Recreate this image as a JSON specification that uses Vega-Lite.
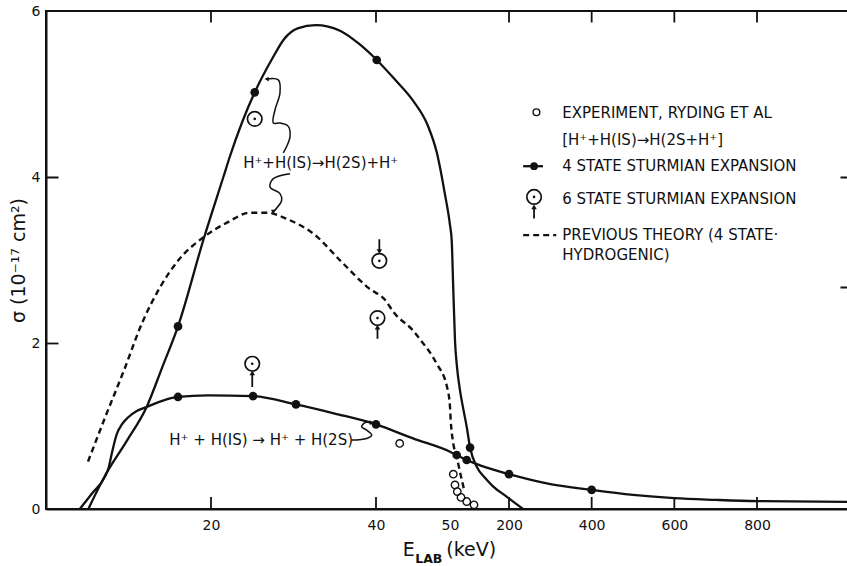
{
  "$schema": "https://vega.github.io/schema/vega-lite/v6.json",
  "width": 803,
  "height": 498,
  "autosize": {"type": "none"},
  "padding": {"left": 46, "top": 11, "right": 0, "bottom": 57},
  "background": "white",
  "config": {
    "view": {"stroke": "#111", "strokeWidth": 2},
    "font": "DejaVu Sans",
    "axis": {"domainColor": "#111", "labelColor": "#111", "titleColor": "#111", "domainWidth": 2, "ticks": false, "gridColor": "#111", "gridWidth": 1.8, "gridOpacity": 1, "labelFont": "DejaVu Sans", "titleFont": "DejaVu Sans", "labelFlush": false, "labelBound": false, "labelOverlap": false}
  },
  "datasets": {
    "big": [{"x":5.13,"y":0},{"x":7.15,"y":0.4},{"x":9.85,"y":0.83},{"x":12.2,"y":1.23},{"x":14.1,"y":1.71},{"x":16,"y":2.2},{"x":19.1,"y":3.25},{"x":21.5,"y":4.0},{"x":22.3,"y":4.25},{"x":25.3,"y":5.02},{"x":27.5,"y":5.44},{"x":28.85,"y":5.66},{"x":30.5,"y":5.79},{"x":32.7,"y":5.83},{"x":35.7,"y":5.76},{"x":38,"y":5.6},{"x":40.1,"y":5.41},{"x":42.5,"y":5.18},{"x":45,"y":4.92},{"x":47,"y":4.62},{"x":48.2,"y":4.3},{"x":49.3,"y":3.8},{"x":50,"y":3.42},{"x":54.3,"y":3.24},{"x":58,"y":2.7},{"x":62.7,"y":2.03},{"x":68,"y":1.7},{"x":75.4,"y":1.43},{"x":84,"y":1.2},{"x":92.5,"y":0.99},{"x":101,"y":0.74},{"x":118,"y":0.51},{"x":140,"y":0.37},{"x":160,"y":0.27},{"x":194,"y":0.15},{"x":215,"y":0.07},{"x":234,"y":0}],
    "small": [{"x":4.1,"y":0},{"x":5.6,"y":0.19},{"x":7.15,"y":0.39},{"x":7.6,"y":0.5},{"x":8.0,"y":0.68},{"x":8.57,"y":0.9},{"x":9.2,"y":1.02},{"x":9.9,"y":1.1},{"x":11,"y":1.18},{"x":12.2,"y":1.23},{"x":14,"y":1.3},{"x":16,"y":1.35},{"x":19.6,"y":1.37},{"x":25.1,"y":1.36},{"x":30.3,"y":1.26},{"x":35,"y":1.15},{"x":40,"y":1.02},{"x":45,"y":0.85},{"x":50,"y":0.69},{"x":67,"y":0.65},{"x":92.5,"y":0.59},{"x":130,"y":0.52},{"x":200,"y":0.42},{"x":300,"y":0.3},{"x":400,"y":0.23},{"x":500,"y":0.17},{"x":600,"y":0.13},{"x":700,"y":0.11},{"x":800,"y":0.095},{"x":1010,"y":0.085}],
    "prev": [{"x":5.09,"y":0.57},{"x":7.27,"y":1.13},{"x":9.45,"y":1.67},{"x":11.64,"y":2.24},{"x":13.82,"y":2.67},{"x":16.24,"y":3.02},{"x":19.03,"y":3.27},{"x":21.94,"y":3.45},{"x":24.73,"y":3.57},{"x":26.8,"y":3.57},{"x":29.3,"y":3.49},{"x":32.5,"y":3.31},{"x":35.7,"y":2.99},{"x":39,"y":2.67},{"x":41.4,"y":2.5},{"x":42.3,"y":2.38},{"x":45,"y":2.15},{"x":45.9,"y":2.05},{"x":48.2,"y":1.75},{"x":49.6,"y":1.47},{"x":50,"y":1.23},{"x":51.8,"y":1.07},{"x":57,"y":0.83},{"x":67,"y":0.63},{"x":80,"y":0.35},{"x":86,"y":0.23}],
    "pts4": [{"x":16,"y":2.2},{"x":25.3,"y":5.02},{"x":40.1,"y":5.41},{"x":101,"y":0.74},{"x":16,"y":1.35},{"x":25.1,"y":1.36},{"x":30.3,"y":1.26},{"x":40,"y":1.02},{"x":67,"y":0.65},{"x":92.5,"y":0.59},{"x":200,"y":0.42},{"x":400,"y":0.23}],
    "exp": [{"x":43.2,"y":0.79},{"x":58.4,"y":0.42},{"x":62.7,"y":0.29},{"x":68.6,"y":0.21},{"x":78,"y":0.14},{"x":92.5,"y":0.09},{"x":111,"y":0.05}],
    "pts6": [{"x":25.3,"y":4.70},{"x":25.0,"y":1.75},{"x":40.45,"y":2.99},{"x":40.2,"y":2.30},{"x":260.6,"y":3.76}],
    "arrows": [{"x":25.0,"y":1.47,"y2":1.64,"dir":"up"},{"x":40.45,"y":3.25,"y2":3.10,"dir":"down"},{"x":40.2,"y":2.05,"y2":2.19,"dir":"up"},{"x":260.6,"y":3.50,"y2":3.64,"dir":"up"}],
    "squig": [
      {"g":1,"i":1,"x":26.75,"y":5.18},{"g":1,"i":2,"x":28.16,"y":5.17},{"g":1,"i":3,"x":28.36,"y":5.01},{"g":1,"i":4,"x":27.76,"y":4.81},{"g":1,"i":5,"x":27.55,"y":4.65},{"g":1,"i":6,"x":28.36,"y":4.65},{"g":1,"i":7,"x":29.37,"y":4.61},{"g":1,"i":8,"x":29.58,"y":4.49},{"g":1,"i":9,"x":29.18,"y":4.37},{"g":1,"i":10,"x":28.76,"y":4.29},
      {"g":2,"i":1,"x":29.58,"y":4.04},{"g":2,"i":2,"x":27.55,"y":3.98},{"g":2,"i":3,"x":27.15,"y":3.88},{"g":2,"i":4,"x":28.36,"y":3.80},{"g":2,"i":5,"x":28.57,"y":3.72},{"g":2,"i":6,"x":27.55,"y":3.58},
      {"g":3,"i":1,"x":37.05,"y":0.83},{"g":3,"i":2,"x":38.87,"y":0.85},{"g":3,"i":3,"x":39.48,"y":0.89},{"g":3,"i":4,"x":38.87,"y":0.95},{"g":3,"i":5,"x":38.27,"y":0.99},{"g":3,"i":6,"x":38.67,"y":1.04},{"g":3,"i":7,"x":39.48,"y":1.04}
    ],
    "heads": [{"x":26.75,"y":5.18,"dir":"left"},{"x":27.55,"y":3.58,"dir":"down"},{"x":39.48,"y":1.04,"dir":"right"}],
    "labels": [{"x":23.9,"y":4.17,"text":"H⁺+H(IS)→H(2S)+H⁺"},{"x":14.95,"y":0.83,"text":"H⁺ + H(IS) → H⁺ + H(2S)"}],
    "legendText": [{"x":328.7,"y":4.77,"text":"EXPERIMENT, RYDING ET AL"},{"x":328.7,"y":4.45,"text":"[H⁺+H(IS)→H(2S+H⁺]"},{"x":328.7,"y":4.13,"text":"4 STATE STURMIAN EXPANSION"},{"x":328.7,"y":3.73,"text":"6 STATE STURMIAN EXPANSION"},{"x":328.7,"y":3.30,"text":"PREVIOUS THEORY (4 STATE·"},{"x":328.7,"y":3.06,"text":"HYDROGENIC)"}],
    "xticks": [{"x":20,"y":0.072},{"x":40,"y":0.072},{"x":200,"y":0.072},{"x":400,"y":0.072},{"x":600,"y":0.072},{"x":800,"y":0.072},{"x":20,"y":5.934},{"x":40,"y":5.934},{"x":200,"y":5.934},{"x":400,"y":5.934},{"x":600,"y":5.934},{"x":800,"y":5.934}]
  },
  "encoding": {
    "x": {"field": "x", "type": "quantitative", "scale": {"domain": [0, 40, 50, 200, 800, 1010], "range": [0, 330, 404, 463, 711, 801], "nice": false, "zero": false},
      "axis": {"orient": "bottom", "values": [20, 40, 50, 200, 400, 600, 800], "format": "d", "title": null, "labelPadding": 9, "labelFontSize": 14, "grid": false}},
    "y": {"field": "y", "type": "quantitative", "scale": {"domain": [0, 6], "nice": false, "zero": false},
      "axis": {"orient": "left", "values": [0, 2, 2.67, 4, 6], "format": "d", "labelExpr": "datum.value > 2.6 && datum.value < 2.7 ? '' : datum.label", "labelPadding": 6, "labelFontSize": 14, "title": "σ  (10⁻¹⁷  cm²)", "titleFontSize": 19, "titleFontWeight": "normal", "titlePadding": 3,
        "grid": true,
        "gridDash": {"condition": [{"test": "datum.value == 2", "value": [12, 2000]}, {"test": "datum.value > 2.6 && datum.value < 2.7", "value": [0, 794, 7, 100]}, {"test": "datum.value == 4", "value": [12, 782, 7, 100]}], "value": [0, 2000]},
        "gridOpacity": {"condition": {"test": "datum.value == 0 || datum.value == 6", "value": 0}, "value": 1}}}
  },
  "layer": [
    {
      "data": {"values": [{"x": 50}]},
      "mark": {"type": "rule", "color": "#111", "strokeWidth": 2},
      "encoding": {"y": {"datum": 0, "type": "quantitative"}, "y2": {"datum": 6}}
    },
    {"data": {"name": "xticks"}, "mark": {"type": "point", "shape": "M0,-1L0,1", "filled": false, "stroke": "#111", "strokeWidth": 1.8, "size": 144, "opacity": 1}},
    {"data": {"name": "big"}, "mark": {"type": "line", "interpolate": "monotone", "color": "#111", "strokeWidth": 2.3}},
    {"data": {"name": "small"}, "mark": {"type": "line", "interpolate": "monotone", "color": "#111", "strokeWidth": 2.3}},
    {"data": {"name": "prev"}, "mark": {"type": "line", "interpolate": "monotone", "color": "#111", "strokeWidth": 2.4, "strokeDash": [6, 4]}},
    {"data": {"name": "squig"}, "mark": {"type": "line", "interpolate": "catmull-rom", "color": "#111", "strokeWidth": 1.5}, "encoding": {"detail": {"field": "g"}, "order": {"field": "i", "type": "quantitative"}}},
    {"data": {"name": "heads"}, "mark": {"type": "point", "filled": true, "color": "#111", "size": 22, "opacity": 1}, "encoding": {"shape": {"field": "dir", "type": "nominal", "scale": {"domain": ["left", "down", "right", "up"], "range": ["triangle-left", "triangle-down", "triangle-right", "triangle-up"]}, "legend": null}}},
    {"data": {"name": "arrows"}, "mark": {"type": "rule", "color": "#111", "strokeWidth": 1.8}, "encoding": {"y2": {"field": "y2"}}},
    {"data": {"name": "arrows"}, "mark": {"type": "point", "filled": true, "color": "#111", "size": 30, "opacity": 1}, "encoding": {"y": {"field": "y2", "type": "quantitative"}, "shape": {"field": "dir", "type": "nominal", "scale": {"domain": ["left", "down", "right", "up"], "range": ["triangle-left", "triangle-down", "triangle-right", "triangle-up"]}, "legend": null}}},
    {"data": {"name": "pts6"}, "mark": {"type": "point", "shape": "circle", "filled": false, "color": "#111", "size": 210, "strokeWidth": 1.7, "opacity": 1}},
    {"data": {"name": "pts6"}, "mark": {"type": "point", "shape": "circle", "filled": true, "color": "#111", "size": 7, "opacity": 1}},
    {"data": {"name": "pts4"}, "mark": {"type": "point", "shape": "circle", "filled": true, "color": "#111", "size": 75, "opacity": 1}},
    {"data": {"name": "exp"}, "mark": {"type": "point", "shape": "circle", "filled": false, "color": "#111", "size": 55, "strokeWidth": 1.4, "opacity": 1}},
    {"data": {"name": "labels"}, "mark": {"type": "text", "align": "left", "baseline": "middle", "fontSize": 15, "color": "#111"}, "encoding": {"text": {"field": "text"}}},
    {"data": {"name": "legendText"}, "mark": {"type": "text", "align": "left", "baseline": "middle", "fontSize": 15, "color": "#111"}, "encoding": {"text": {"field": "text"}}},
    {"data": {"values": [{"x": 266.4, "y": 4.78}]}, "mark": {"type": "point", "shape": "circle", "filled": false, "color": "#111", "size": 45, "strokeWidth": 1.4, "opacity": 1}},
    {"data": {"values": [{"x": 234.3, "x2": 282.2, "y": 4.13}]}, "mark": {"type": "rule", "color": "#111", "strokeWidth": 2.3}, "encoding": {"x2": {"field": "x2"}}},
    {"data": {"values": [{"x": 260.6, "y": 4.13}]}, "mark": {"type": "point", "shape": "circle", "filled": true, "color": "#111", "size": 60, "opacity": 1}},
    {"data": {"values": [{"x": 234.3, "x2": 314.3, "y": 3.30}]}, "mark": {"type": "rule", "color": "#111", "strokeWidth": 2.2, "strokeDash": [6, 4]}, "encoding": {"x2": {"field": "x2"}}},
    {"data": {"values": [{"x": 43.6, "y": -0.49, "text": "E"}, {"x": 49.5, "y": -0.49, "text": "(keV)"}]}, "mark": {"type": "text", "align": "left", "baseline": "middle", "fontSize": 19, "color": "#111"}, "encoding": {"text": {"field": "text"}}},
    {"data": {"values": [{"x": 45.3, "y": -0.6, "text": "LAB"}]}, "mark": {"type": "text", "align": "left", "baseline": "middle", "fontSize": 12.5, "fontWeight": "bold", "color": "#111"}, "encoding": {"text": {"field": "text"}}}
  ]
}
